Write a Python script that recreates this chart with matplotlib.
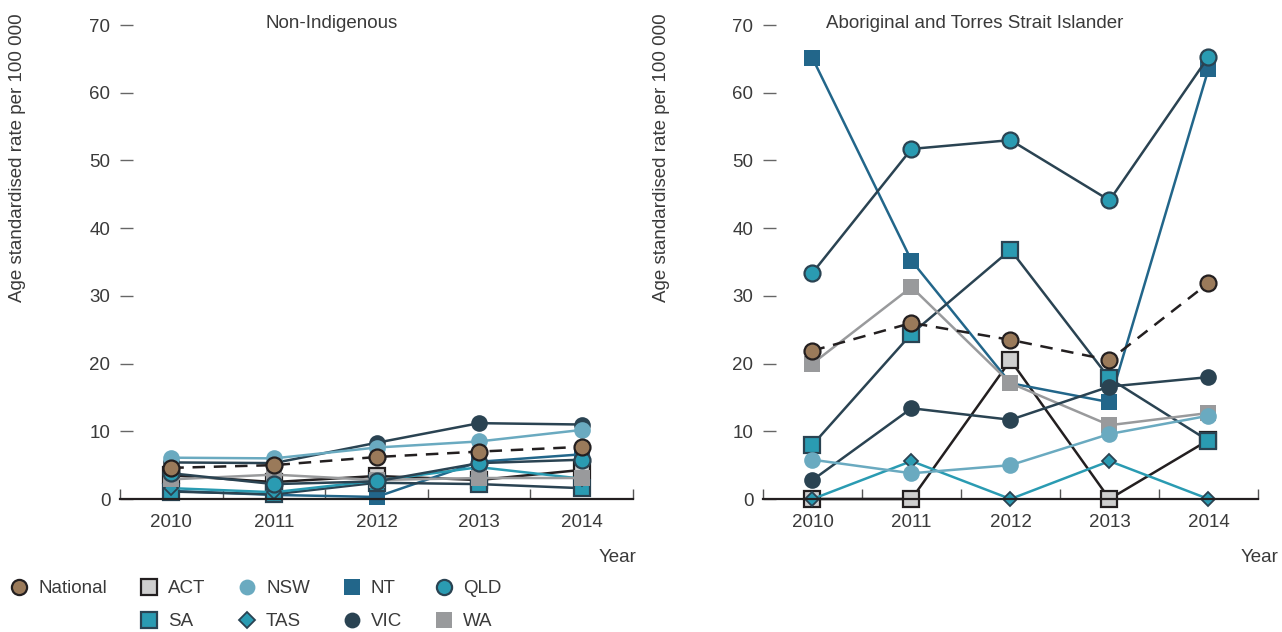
#!/usr/bin/python

'''
	Age standardised rates by state, Non-Indigenous vs Aboriginal and Torres Strait Islander.
'''

import matplotlib
matplotlib.use('Agg')
import matplotlib.pyplot as plt
from matplotlib.lines import Line2D

years = [2010, 2011, 2012, 2013, 2014]
series_names = ['National', 'ACT', 'NSW', 'NT', 'QLD', 'SA', 'TAS', 'VIC', 'WA']

# Non-Indigenous
ni_national = [4.6, 5.0, 6.2, 7.0, 7.7]
ni_act = [3.5, 2.5, 3.4, 2.8, 4.3]
ni_nsw = [6.1, 6.0, 7.6, 8.5, 10.2]
ni_nt = [1.2, 0.6, 0.3, 5.5, 6.6]
ni_qld = [3.8, 2.2, 2.6, 5.3, 5.8]
ni_sa = [1.1, 0.7, 2.4, 2.2, 1.6]
ni_tas = [1.6, 1.0, 2.7, 4.7, 3.0]
ni_vic = [5.4, 5.3, 8.3, 11.2, 11.0]
ni_wa = [2.9, 3.6, 2.8, 3.1, 3.1]

# Aboriginal and Torres Strait Islander
ab_national = [21.9, 26.0, 23.5, 20.5, 31.9]
ab_act = [0, 0, 20.5, 0, 8.7]
ab_nsw = [5.8, 3.8, 5.0, 9.6, 12.3]
ab_nt = [65.1, 35.2, 17.1, 14.3, 63.5]
ab_qld = [33.4, 51.7, 53.0, 44.1, 65.3]
ab_sa = [8.0, 24.4, 36.8, 17.8, 8.6]
ab_tas = [0, 5.6, 0, 5.6, 0]
ab_vic = [2.8, 13.4, 11.7, 16.6, 18.0]
ab_wa = [20.0, 31.3, 17.1, 10.9, 12.7]

DARK = '#231f20'
NAVY = '#2a4352'
TEAL = '#2a9bb2'
TEXT = '#3a3a3a'

# name: (line colour, marker, face, edge, edge width, size, linestyle)
STYLES = {
	'National': ('#231f20', 'o', '#9a7a5a', DARK, 1.6, 11.5, (0, (5, 3.5))),
	'ACT': (DARK, 's', '#cfcfcf', DARK, 1.6, 11.5, '-'),
	'NSW': ('#6aaac0', 'o', '#6aaac0', '#6aaac0', 0, 12, '-'),
	'NT': ('#22668a', 's', '#22668a', '#22668a', 0, 11.5, '-'),
	'QLD': (NAVY, 'o', TEAL, NAVY, 1.6, 11.5, '-'),
	'SA': (NAVY, 's', TEAL, NAVY, 1.6, 11.5, '-'),
	'TAS': (TEAL, 'D', TEAL, NAVY, 1.3, 7, '-'),
	'VIC': (NAVY, 'o', NAVY, NAVY, 0, 12, '-'),
	'WA': ('#999a9c', 's', '#999a9c', '#999a9c', 0, 11.5, '-'),
}

DRAW_ORDER = ['ACT', 'NT', 'SA', 'TAS', 'WA', 'VIC', 'NSW', 'QLD', 'National']

W, H = 1282, 632


def fx(px):
	return px / W


def fy(py):
	return 1 - py / H


def drawPanel(ax, data):
	for name in DRAW_ORDER:
		lc, mk, fc, ec, ew, ms, ls = STYLES[name]
		ax.plot(years, data[name], color=lc, lw=1.8, ls=ls, marker=mk,
			markerfacecolor=fc, markeredgecolor=ec, markeredgewidth=ew,
			markersize=ms, clip_on=False)
	ax.set_xlim(2009.5, 2014.5)
	ax.set_ylim(0, 70)
	for s in ['left', 'right', 'top']:
		ax.spines[s].set_visible(False)
	ax.spines['bottom'].set_color(DARK)
	ax.spines['bottom'].set_linewidth(1.6)
	ax.set_xticks(years)
	ax.set_xticks([y + 0.5 for y in [2009] + years], minor=True)
	ax.tick_params(axis='x', which='major', length=0, pad=10.5, labelsize=13.5, labelcolor=TEXT)
	ax.tick_params(axis='x', which='minor', direction='in', length=7, width=1, color='#555555')
	ax.set_yticks(range(0, 71, 10))
	ax.tick_params(axis='y', direction='in', length=9, width=1, color='#666666',
		pad=7, labelsize=13.5, labelcolor=TEXT)


def main():
	plt.rcParams['font.family'] = ['Liberation Sans', 'DejaVu Sans']
	fig = plt.figure(figsize=(W / 100, H / 100), dpi=100)

	ax1 = fig.add_axes([fx(120), fy(499), fx(633 - 120), (499 - 25) / H])
	ax2 = fig.add_axes([fx(763), fy(499), fx(1258 - 763), (499 - 25) / H])

	ni = dict(zip(series_names, [ni_national, ni_act, ni_nsw, ni_nt, ni_qld,
		ni_sa, ni_tas, ni_vic, ni_wa]))
	ab = dict(zip(series_names, [ab_national, ab_act, ab_nsw, ab_nt, ab_qld,
		ab_sa, ab_tas, ab_vic, ab_wa]))
	drawPanel(ax1, ni)
	drawPanel(ax2, ab)

	fig.text(fx(332), fy(24), 'Non-Indigenous', ha='center', va='center', fontsize=13.5, color=TEXT)
	fig.text(fx(975), fy(24), 'Aboriginal and Torres Strait Islander', ha='center', va='center',
		fontsize=13.5, color=TEXT)
	for x in [18, 661]:
		fig.text(fx(x), fy(158), 'Age standardised rate per 100 000', rotation=90,
			ha='center', va='center', fontsize=13.5, color=TEXT)
	for x in [618, 1260]:
		fig.text(fx(x), fy(557), 'Year', ha='center', va='center', fontsize=13.5, color=TEXT)

	handles = []
	for name in series_names:
		lc, mk, fc, ec, ew, ms, ls = STYLES[name]
		handles.append(Line2D([], [], ls='none', marker=mk, markerfacecolor=fc,
			markeredgecolor=ec, markeredgewidth=ew, markersize=ms * 0.95 if mk != 'D' else 8.5))
	blank = Line2D([], [], ls='none')
	order = ['National', None, 'ACT', 'SA', 'NSW', 'TAS', 'NT', 'VIC', 'QLD', 'WA']
	hs = [blank if n is None else handles[series_names.index(n)] for n in order]
	ls_ = ['' if n is None else n for n in order]
	fig.legend(hs, ls_, ncol=5, loc='upper left', bbox_to_anchor=(fx(8), fy(580)),
		frameon=False, fontsize=13.5, labelcolor=TEXT, handlelength=1.2,
		handletextpad=0.4, columnspacing=1.65, labelspacing=0.85,
		borderpad=0, borderaxespad=0)

	fig.savefig('out.png', dpi=100)


if __name__ == '__main__':
	main()
